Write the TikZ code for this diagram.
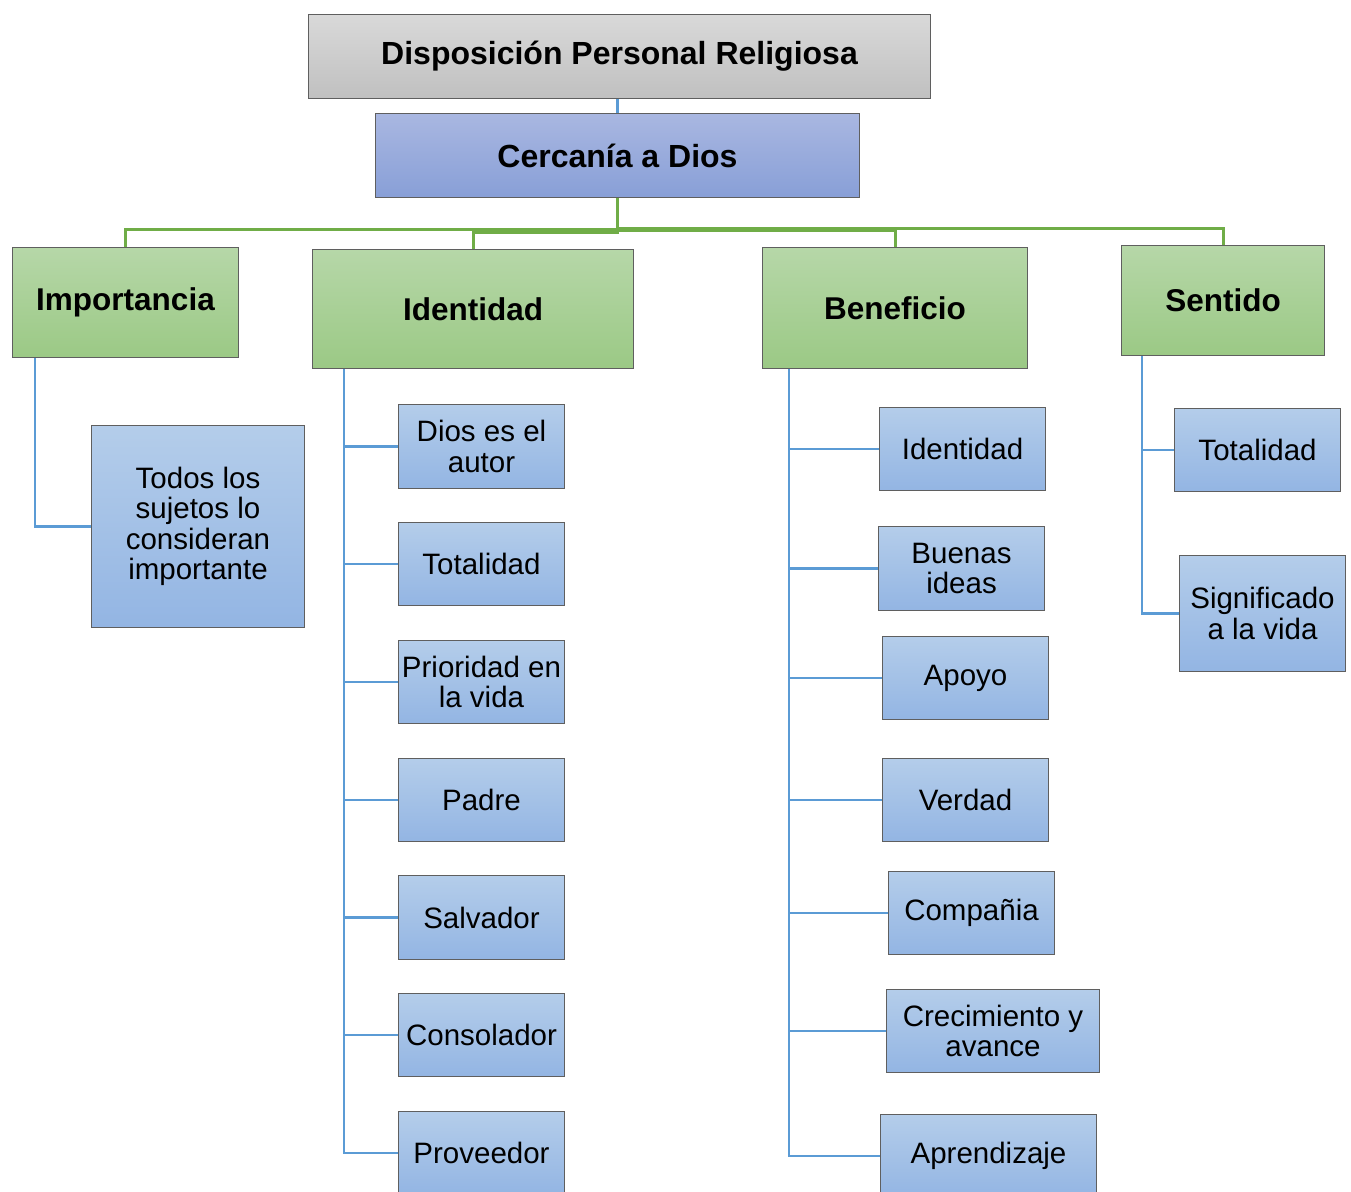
\documentclass[tikz,border=0pt]{standalone}
\usepackage{fontspec}
\setmainfont{Liberation Sans}
\definecolor{gtop}{HTML}{B6D7A8}
\definecolor{gbot}{HTML}{9BC985}
\definecolor{btop}{HTML}{B4CDEA}
\definecolor{bbot}{HTML}{93B5E3}
\definecolor{ctop}{HTML}{A9B7E1}
\definecolor{cbot}{HTML}{889FD7}
\definecolor{ttop}{HTML}{D9D9D9}
\definecolor{tbot}{HTML}{C0C0C0}
\definecolor{edgec}{HTML}{5F5F5F}
\definecolor{bline}{HTML}{5B9BD5}
\definecolor{gline}{HTML}{70AD47}
\tikzset{
  box/.style={rectangle, draw=edgec, line width=1pt, inner sep=0pt, align=center, anchor=north west},
  titlebox/.style={box, top color=ttop, bottom color=tbot, font=\fontsize{32}{35}\selectfont\bfseries},
  cerbox/.style={box, top color=ctop, bottom color=cbot, font=\fontsize{32}{35}\selectfont\bfseries},
  headbox/.style={box, top color=gtop, bottom color=gbot, font=\fontsize{31.5}{34}\selectfont\bfseries},
  leafbox/.style={box, top color=btop, bottom color=bbot, font=\fontsize{29.5}{30.5}\selectfont},
  bconn/.style={draw=bline, line width=2.5pt},
  gconn/.style={draw=gline, line width=3pt},
}
\newcommand{\bx}[7]{% style, name, x1, y1, x2, y2, text
  \node[#1, minimum width={(#5-#3)*1pt}, minimum height={(#6-#4)*1pt}] (#2) at (#3,#4) {#7};}
\begin{document}
\begin{tikzpicture}[x=1pt,y=-1pt]
\useasboundingbox (0,0) rectangle (1351,1191);
% top
\bx{titlebox}{title}{308}{14}{930}{98}{Disposición Personal Religiosa}
\bx{cerbox}{cer}{375}{113}{859}{197}{Cercanía a Dios}
% headers
\bx{headbox}{imp}{12}{247}{238}{357}{Importancia}
\bx{headbox}{ide}{312}{249}{633}{368}{Identidad}
\bx{headbox}{ben}{762}{247}{1027}{368}{Beneficio}
\bx{headbox}{sen}{1121}{245}{1324}{355}{Sentido}
% importancia
\bx{leafbox}{t1}{91}{425}{304}{627}{Todos los\\sujetos lo\\consideran\\importante}
% identidad
\bx{leafbox}{a1}{398}{404}{564}{488}{Dios es el\\autor}
\bx{leafbox}{a2}{398}{522}{564}{605}{Totalidad}
\bx{leafbox}{a3}{398}{640}{564}{723}{Prioridad en\\la vida}
\bx{leafbox}{a4}{398}{758}{564}{841}{Padre}
\bx{leafbox}{a5}{398}{875}{564}{959}{Salvador}
\bx{leafbox}{a6}{398}{993}{564}{1076}{Consolador}
\bx{leafbox}{a7}{398}{1111}{564}{1194}{Proveedor}
% beneficio
\bx{leafbox}{b1}{879}{407}{1045}{490}{Identidad}
\bx{leafbox}{b2}{878}{526}{1044}{610}{Buenas\\ideas}
\bx{leafbox}{b3}{882}{636}{1048}{719}{Apoyo}
\bx{leafbox}{b4}{882}{758}{1048}{841}{Verdad}
\bx{leafbox}{b5}{888}{871}{1054}{954}{Compañia}
\bx{leafbox}{b6}{886}{989}{1099}{1072}{Crecimiento y\\avance}
\bx{leafbox}{b7}{880}{1114}{1096}{1197}{Aprendizaje}
% sentido
\bx{leafbox}{s1}{1174}{408}{1340}{491}{Totalidad}
\bx{leafbox}{s2}{1179}{555}{1345}{671}{Significado\\a la vida}
% connectors
\draw[bconn] (cer.north) -- (cer.north |- title.south);
\draw[gconn] (cer.south) -- ++(0,31) -| (imp.north);
\draw[gconn] (cer.south) -- ++(0,34) -| (ide.north);
\draw[gconn] (cer.south) -- ++(0,32) -| (ben.north);
\draw[gconn] (cer.south) -- ++(0,30) -| (sen.north);
\draw[bconn] ([xshift=23pt]imp.south west) |- (t1.west);
\foreach \c in {a1,a2,a3,a4,a5,a6,a7}
  \draw[bconn] ([xshift=32pt]ide.south west) |- (\c.west);
\foreach \c in {b1,b2,b3,b4,b5,b6,b7}
  \draw[bconn] ([xshift=27pt]ben.south west) |- (\c.west);
\foreach \c in {s1,s2}
  \draw[bconn] ([xshift=21pt]sen.south west) |- (\c.west);
\end{tikzpicture}
\end{document}
